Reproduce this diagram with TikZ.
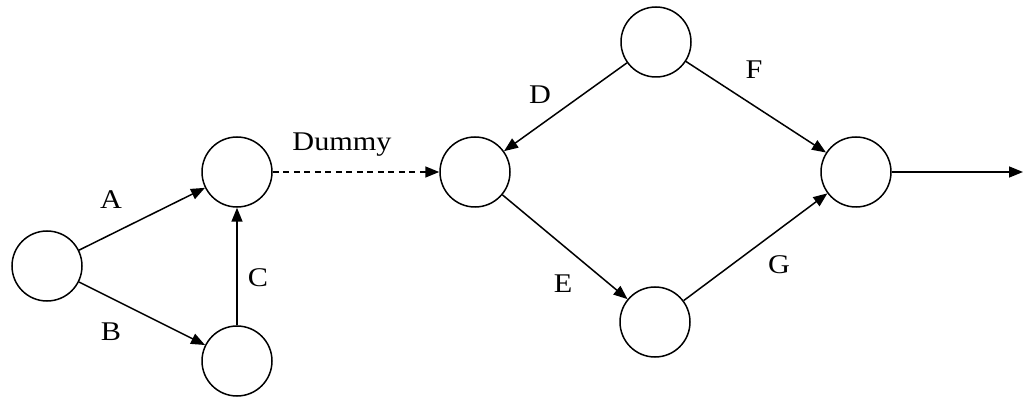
\documentclass[tikz,border=0pt]{standalone}
\usepackage{fontspec}
\setmainfont{Liberation Serif}
\usetikzlibrary{arrows.meta}

\begin{document}
\begin{tikzpicture}[x=1pt, y=-1pt, line width=1.5pt,
  >={Triangle[length=14pt,width=11pt]},
  event/.style={draw, circle, minimum size=70pt, inner sep=0pt},
  lbl/.style={inner sep=0pt, text depth=0pt, xscale=1.12, font=\fontsize{27}{32}\selectfont}]
\useasboundingbox (0,0) rectangle (1023,398);
% events
\node[event] (e1) at (47,266) {};
\node[event] (e2) at (237,172) {};
\node[event] (e3) at (237,361) {};
\node[event] (e4) at (475,172) {};
\node[event] (e5) at (656,42) {};
\node[event] (e6) at (856,172) {};
\node[event] (e7) at (655,322) {};
\coordinate (end) at (1023,172);
% activities
\draw[->] (e1) -- (e2);
\draw[->] (e1) -- (e3);
\draw[->] (e3) -- (e2);
\draw[->, dashed, dash pattern=on 6pt off 4.5pt] (e2) -- (e4);
\draw[->] (e5) -- (e4);
\draw[->] (e4) -- (e7);
\draw[->] (e5) -- (e6);
\draw[->] (e7) -- (e6);
\draw[->] (e6) -- (end);
% labels
\node[lbl] (lA) at (111,200) {A};
\node[lbl] (lB) at (111,332) {B};
\node[lbl] (lC) at (258,278) {C};
\node[lbl] (lDummy) at (342,142) {Dummy};
\node[lbl] (lD) at (540,95) {D};
\node[lbl] (lE) at (563,284) {E};
\node[lbl] (lF) at (754,70) {F};
\node[lbl] (lG) at (779,265) {G};
\end{tikzpicture}
\end{document}
